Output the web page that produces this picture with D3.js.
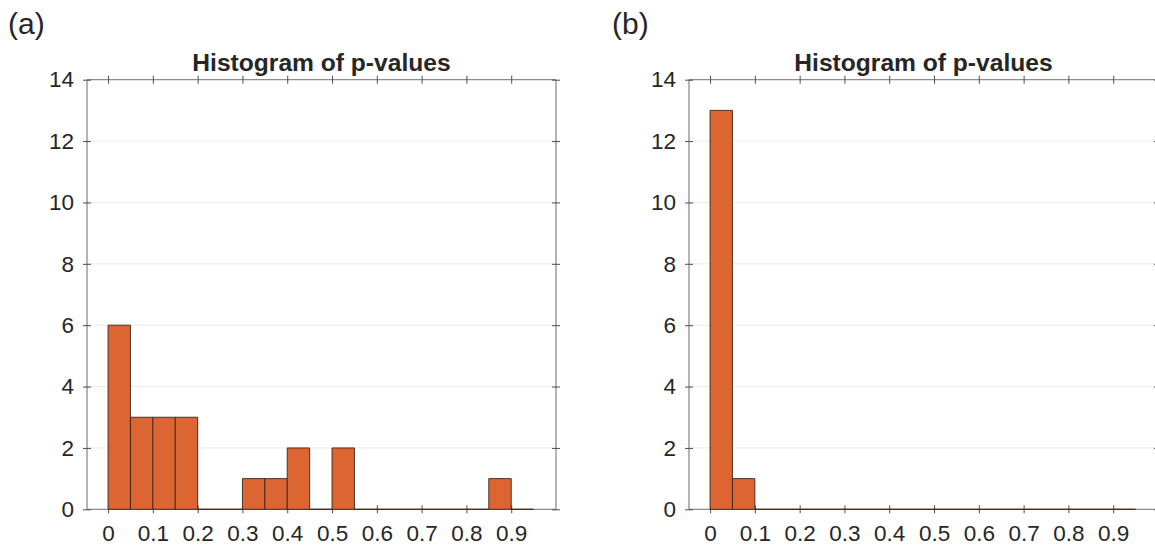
<!DOCTYPE html>
<html>
<head>
<meta charset="utf-8">
<script src="https://cdn.jsdelivr.net/npm/d3@7/dist/d3.min.js"></script>
<style>
  html, body { margin: 0; padding: 0; background: #fff; }
  svg { display: block; }
  text { font-family: "Liberation Sans", Arial, Helvetica, sans-serif; fill: #262626; }
</style>
</head>
<body>
<svg id="chart" width="1155" height="547"></svg>
<script>
// Histogram bins: width 0.05, from 0 to 0.95
const binEdges = [0, 0.05, 0.1, 0.15, 0.2, 0.25, 0.3, 0.35, 0.4, 0.45, 0.5,
                  0.55, 0.6, 0.65, 0.7, 0.75, 0.8, 0.85, 0.9, 0.95];
// Counts per bin, panel (a)
const countsA = [6, 3, 3, 3, 0, 0, 1, 1, 2, 0, 2, 0, 0, 0, 0, 0, 0, 1, 0];
// Counts per bin, panel (b)
const countsB = [13, 1, 0, 0, 0, 0, 0, 0, 0, 0, 0, 0, 0, 0, 0, 0, 0, 0, 0];

const xTicks = [0, 0.1, 0.2, 0.3, 0.4, 0.5, 0.6, 0.7, 0.8, 0.9];
const xTickLabels = ["0", "0.1", "0.2", "0.3", "0.4", "0.5", "0.6", "0.7", "0.8", "0.9"];
const yTicks = [0, 2, 4, 6, 8, 10, 12, 14];
const yTickLabels = ["0", "2", "4", "6", "8", "10", "12", "14"];
const gridValues = [2, 4, 6, 8, 10, 12];

const panelLabels = ["(a)", "(b)"];
const titleText = "Histogram of p-values";

const svg = d3.select("#chart");

const panels = [
  { label: panelLabels[0], counts: countsA, left: 87, labelX: 8 },
  { label: panelLabels[1], counts: countsB, left: 689, labelX: 612 }
];

const plotW = 469, plotTop = 79.7, plotBottom = 509.3;
const xDomain = [-0.047, 1.0];
const yDomain = [0, 14];

const barFill = "#dd6531";
const barEdge = "#3d2418";
const axisColor = "#8c8c8c";
const tickColor = "#4d4d4d";
const tickFont = 22.5;

panels.forEach(p => {
  const g = svg.append("g");
  const x = d3.scaleLinear().domain(xDomain).range([p.left, p.left + plotW]);
  const y = d3.scaleLinear().domain(yDomain).range([plotBottom, plotTop]);

  // horizontal grid
  g.append("g").selectAll("line").data(gridValues).join("line")
    .attr("x1", x.range()[0]).attr("x2", x.range()[1])
    .attr("y1", d => y(d)).attr("y2", d => y(d))
    .attr("stroke", "#ebebeb").attr("stroke-width", 1);

  // axes box
  const box = g.append("g").attr("stroke", axisColor).attr("stroke-width", 1.3).attr("fill", "none");
  box.append("line").attr("x1", x.range()[0]).attr("x2", x.range()[1]).attr("y1", y(0)).attr("y2", y(0));
  box.append("line").attr("x1", x.range()[0]).attr("x2", x.range()[1]).attr("y1", y(14)).attr("y2", y(14));
  box.append("line").attr("x1", x.range()[0]).attr("x2", x.range()[0]).attr("y1", y(0)).attr("y2", y(14));
  box.append("line").attr("x1", x.range()[1]).attr("x2", x.range()[1]).attr("y1", y(0)).attr("y2", y(14));

  // bottom axis with tick labels
  const axB = d3.axisBottom(x).tickValues(xTicks).tickFormat((d, i) => xTickLabels[i]).tickSize(4).tickPadding(12);
  const gB = g.append("g").attr("transform", `translate(0,${y(0)})`).call(axB);
  gB.select(".domain").remove();
  gB.selectAll(".tick line").attr("y1", -4).attr("y2", 4).attr("stroke", tickColor);
  gB.selectAll(".tick text").attr("font-size", tickFont).style("font-family", "Liberation Sans, Arial, sans-serif").attr("fill", "#262626");

  // top axis ticks
  const axT = d3.axisTop(x).tickValues(xTicks).tickFormat("").tickSize(4);
  const gT = g.append("g").attr("transform", `translate(0,${y(14)})`).call(axT);
  gT.select(".domain").remove();
  gT.selectAll(".tick line").attr("y1", -4).attr("y2", 4).attr("stroke", tickColor);

  // left axis with tick labels
  const axL = d3.axisLeft(y).tickValues(yTicks).tickFormat((d, i) => yTickLabels[i]).tickSize(4).tickPadding(9);
  const gL = g.append("g").attr("transform", `translate(${x.range()[0]},0)`).call(axL);
  gL.select(".domain").remove();
  gL.selectAll(".tick line").attr("x1", -4).attr("x2", 4).attr("stroke", tickColor);
  gL.selectAll(".tick text").attr("font-size", tickFont).style("font-family", "Liberation Sans, Arial, sans-serif").attr("fill", "#262626");

  // right axis ticks
  const axR = d3.axisRight(y).tickValues(yTicks).tickFormat("").tickSize(4);
  const gR = g.append("g").attr("transform", `translate(${x.range()[1]},0)`).call(axR);
  gR.select(".domain").remove();
  gR.selectAll(".tick line").attr("x1", -4).attr("x2", 4).attr("stroke", tickColor);

  // histogram bars (zero-count bins draw as a flat edge on the baseline)
  const bins = p.counts.map((c, i) => ({ x0: binEdges[i], x1: binEdges[i] + 0.05, c }));
  g.append("g").selectAll("path").data(bins).join("path")
    .attr("d", d => `M${x(d.x0)},${y(0)}V${y(d.c)}H${x(d.x1)}V${y(0)}Z`)
    .attr("fill", barFill)
    .attr("stroke", barEdge)
    .attr("stroke-width", 0.9);

  // title
  g.append("text")
    .attr("x", (x.range()[0] + x.range()[1]) / 2)
    .attr("y", 71)
    .attr("text-anchor", "middle")
    .attr("font-size", 24.6)
    .attr("font-weight", "bold")
    .attr("fill", "#000")
    .text(titleText);

  // panel label
  svg.append("text")
    .attr("x", p.labelX)
    .attr("y", 34)
    .attr("font-size", 30)
    .attr("fill", "#000")
    .text(p.label);
});
</script>
</body>
</html>
